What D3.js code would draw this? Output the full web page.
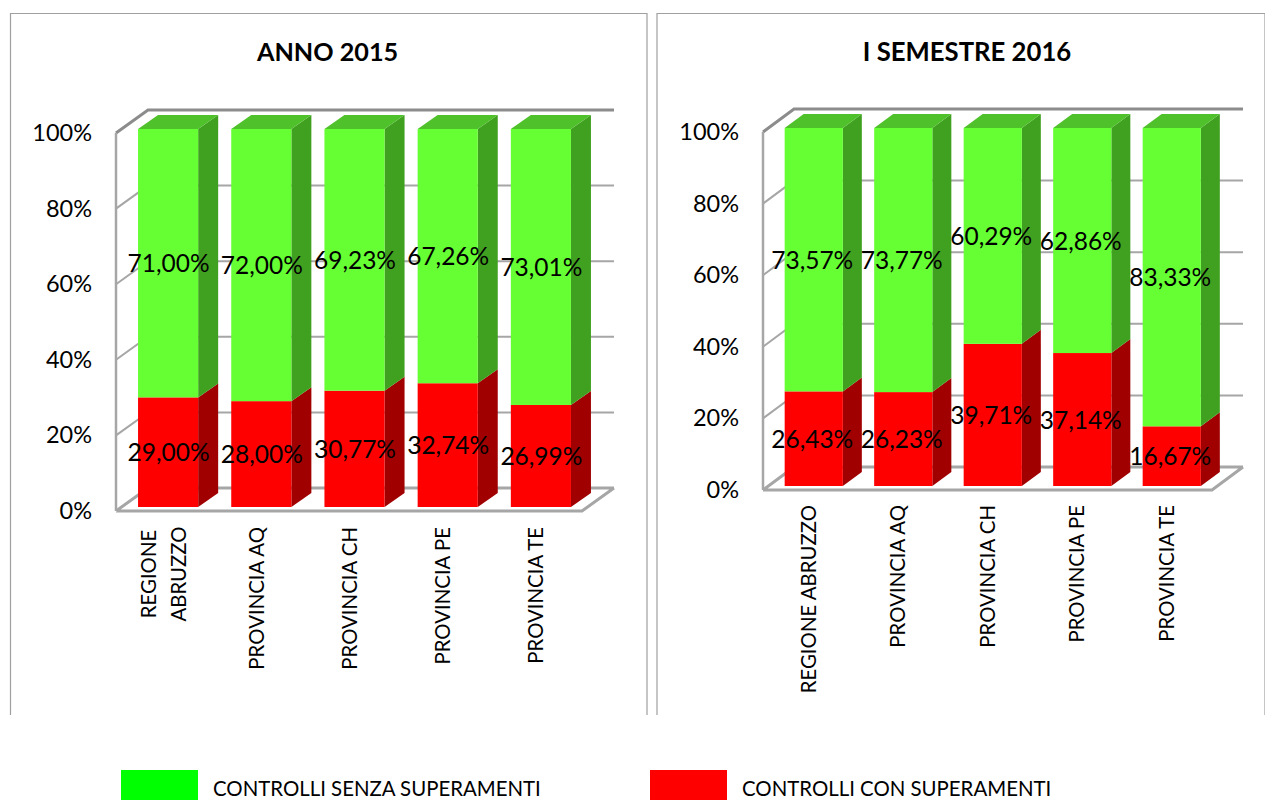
<!DOCTYPE html>
<html>
<head>
<meta charset="utf-8">
<script src="https://cdn.jsdelivr.net/npm/d3@7"></script>
<style>
  body { margin: 0; background: #fff; }
  text { font-family: Lato, "Open Sans", sans-serif; fill: #000; }
</style>
</head>
<body>
<svg id="chart" width="1265" height="800"></svg>
<script>
const categories2015 = ["REGIONE|ABRUZZO", "PROVINCIA AQ", "PROVINCIA CH", "PROVINCIA PE", "PROVINCIA TE"]
const senza2015 = [71.00, 72.00, 69.23, 67.26, 73.01]
const con2015 = [29.00, 28.00, 30.77, 32.74, 26.99]

const categories2016 = ["REGIONE ABRUZZO", "PROVINCIA AQ", "PROVINCIA CH", "PROVINCIA PE", "PROVINCIA TE"]
const senza2016 = [73.57, 73.77, 60.29, 62.86, 83.33]
const con2016 = [26.43, 26.23, 39.71, 37.14, 16.67]

const yTicks = [0, 20, 40, 60, 80, 100]
const legendLabels = ["CONTROLLI SENZA SUPERAMENTI", "CONTROLLI CON SUPERAMENTI"]

const svg = d3.select("#chart")
const fmt = v => v.toFixed(2).replace(".", ",") + "%"
const GRID = "#a6a6a6"

function drawPanel(p) {
    let g = svg.append("g")

    // panel frame, open at the bottom
    g.append("path")
        .attr("d", `M${p.left},715V13.5H${p.right}V715`)
        .attr("fill", "none").attr("stroke", "#a0a0a0").attr("stroke-width", 1.2)

    g.append("text")
        .attr("x", p.titleX).attr("y", 61)
        .attr("text-anchor", "middle")
        .style("font-size", p.titleSize).style("font-weight", 700)
        .text(p.title)

    let y = d3.scaleLinear().domain([0, 100]).range([p.bottom, p.top])
    let x = d3.scaleBand().domain(p.categories).range(p.xRange)
        .paddingInner(p.pad).paddingOuter(p.pad / 2)

    // wall and floor, the wall sits a few px below the bars
    let wall = v => y(v) + 4
    let x0 = p.wallX, x1 = p.wallX + p.wallDx, x2 = p.wallRight

    yTicks.forEach(t => {
        let path = d3.path()
        path.moveTo(x0, wall(t))
        path.lineTo(x1, wall(t) - p.wallDy)
        path.lineTo(x2 + p.wallDx, wall(t) - p.wallDy)
        if (t == 0) {
            path.moveTo(x0, wall(t))
            path.lineTo(x2, wall(t))
            path.lineTo(x2 + p.wallDx, wall(t) - p.wallDy)
        }
        g.append("path").attr("d", path.toString())
            .attr("fill", "none").attr("stroke", t == 100 ? "#8c8c8c" : GRID)
            .attr("stroke-width", t == 0 || t == 100 ? 3 : 2)
    })
    g.append("line")
        .attr("x1", x0).attr("x2", x0).attr("y1", wall(100)).attr("y2", wall(0))
        .attr("stroke", GRID).attr("stroke-width", 2.5)

    // y labels
    g.append("g")
        .attr("transform", `translate(${p.tickX},0)`)
        .call(d3.axisLeft(d3.scaleLinear().domain([0, 100]).range([wall(0), wall(100)]))
            .tickValues(yTicks).tickSize(0).tickPadding(0).tickFormat(d => d + "%"))
        .call(a => a.select(".domain").remove())
        .selectAll("text").style("font-size", "23.5px").attr("fill", "#000")

    // stacked bars with a fake 3d side and top
    let rows = p.categories.map((c, i) => ({ key: c, con: p.con[i], senza: p.senza[i] }))
    let stacked = d3.stack().keys(["con", "senza"])(rows)
    let faces = {
        con: { front: "#ff0000", side: "#a00000" },
        senza: { front: "#66ff33", side: "#40a020", top: "#4fc12a" }
    }
    let poly = pts => pts.map(q => q.join(",")).join(" ")

    rows.forEach((r, i) => {
        stacked.forEach(s => {
            let d = s[i], col = faces[s.key]
            let l = x(r.key), w = x.bandwidth(), a = y(d[1]), b = y(d[0])
            g.append("polygon").attr("fill", col.side)
                .attr("points", poly([[l + w, a], [l + w + p.dx, a - p.dy], [l + w + p.dx, b - p.dy], [l + w, b]]))
            g.append("rect").attr("fill", col.front)
                .attr("x", l).attr("y", a).attr("width", w).attr("height", b - a)
            if (col.top) {
                g.append("polygon").attr("fill", col.top)
                    .attr("points", poly([[l, a], [l + p.dx, a - p.dy], [l + w + p.dx, a - p.dy], [l + w, a]]))
            }
        })
    })

    // data labels go on top of everything
    rows.forEach(r => {
        stacked.forEach(s => {
            let d = s.find(e => e.data.key == r.key)
            g.append("text")
                .attr("x", x(r.key) + x.bandwidth() / 2 + p.labelDx)
                .attr("y", y((d[0] + d[1]) / 2) + 9)
                .attr("text-anchor", "middle")
                .style("font-size", "24.5px")
                .text(fmt(d[1] - d[0]))
        })
    })

    // category labels, rotated
    rows.forEach(r => {
        let lines = r.key.split("|")
        let cx = x(r.key) + x.bandwidth() / 2 + p.catDx
        lines.forEach((line, j) => {
            let off = lines.length > 1 ? (j - 0.5) * 30 : 0
            g.append("text")
                .attr("transform", `translate(${cx + off + 7},${p.catY}) rotate(-90)`)
                .attr("text-anchor", lines.length > 1 ? "middle" : "end")
                .attr("dx", lines.length > 1 ? -47 : 0)
                .style("font-size", "20.4px")
                .text(line)
        })
    })
}

drawPanel({
    title: "ANNO 2015", titleX: 327.5, titleSize: "25.2px", left: 10.5, right: 647,
    categories: categories2015, senza: senza2015, con: con2015,
    bottom: 507, top: 129, xRange: [121.5, 587.5], pad: 0.355,
    wallX: 116, wallDx: 32, wallDy: 23, wallRight: 582,
    dx: 20, dy: 14, tickX: 92, labelDx: 0.5, catDx: -4.5, catY: 527
})

drawPanel({
    title: "I SEMESTRE 2016", titleX: 967, titleSize: "25.7px", left: 657, right: 1265,
    categories: categories2016, senza: senza2016, con: con2016,
    bottom: 486, top: 128, xRange: [769, 1216.5], pad: 0.35,
    wallX: 763, wallDx: 31, wallDy: 23, wallRight: 1212,
    dx: 19, dy: 14, tickX: 739, labelDx: -1.5, catDx: -5, catY: 505
})

// legend
let legend = svg.append("g")
const legendColors = ["#00ff00", "#ff0000"]
const legendX = d3.scalePoint().domain(legendLabels).range([121, 650])
legendLabels.forEach((t, i) => {
    legend.append("rect")
        .attr("x", legendX(t)).attr("y", 770).attr("width", 77).attr("height", 30)
        .attr("fill", legendColors[i])
    legend.append("text")
        .attr("x", legendX(t) + 92).attr("y", 796)
        .style("font-size", "20.4px")
        .text(t)
})
</script>
</body>
</html>
